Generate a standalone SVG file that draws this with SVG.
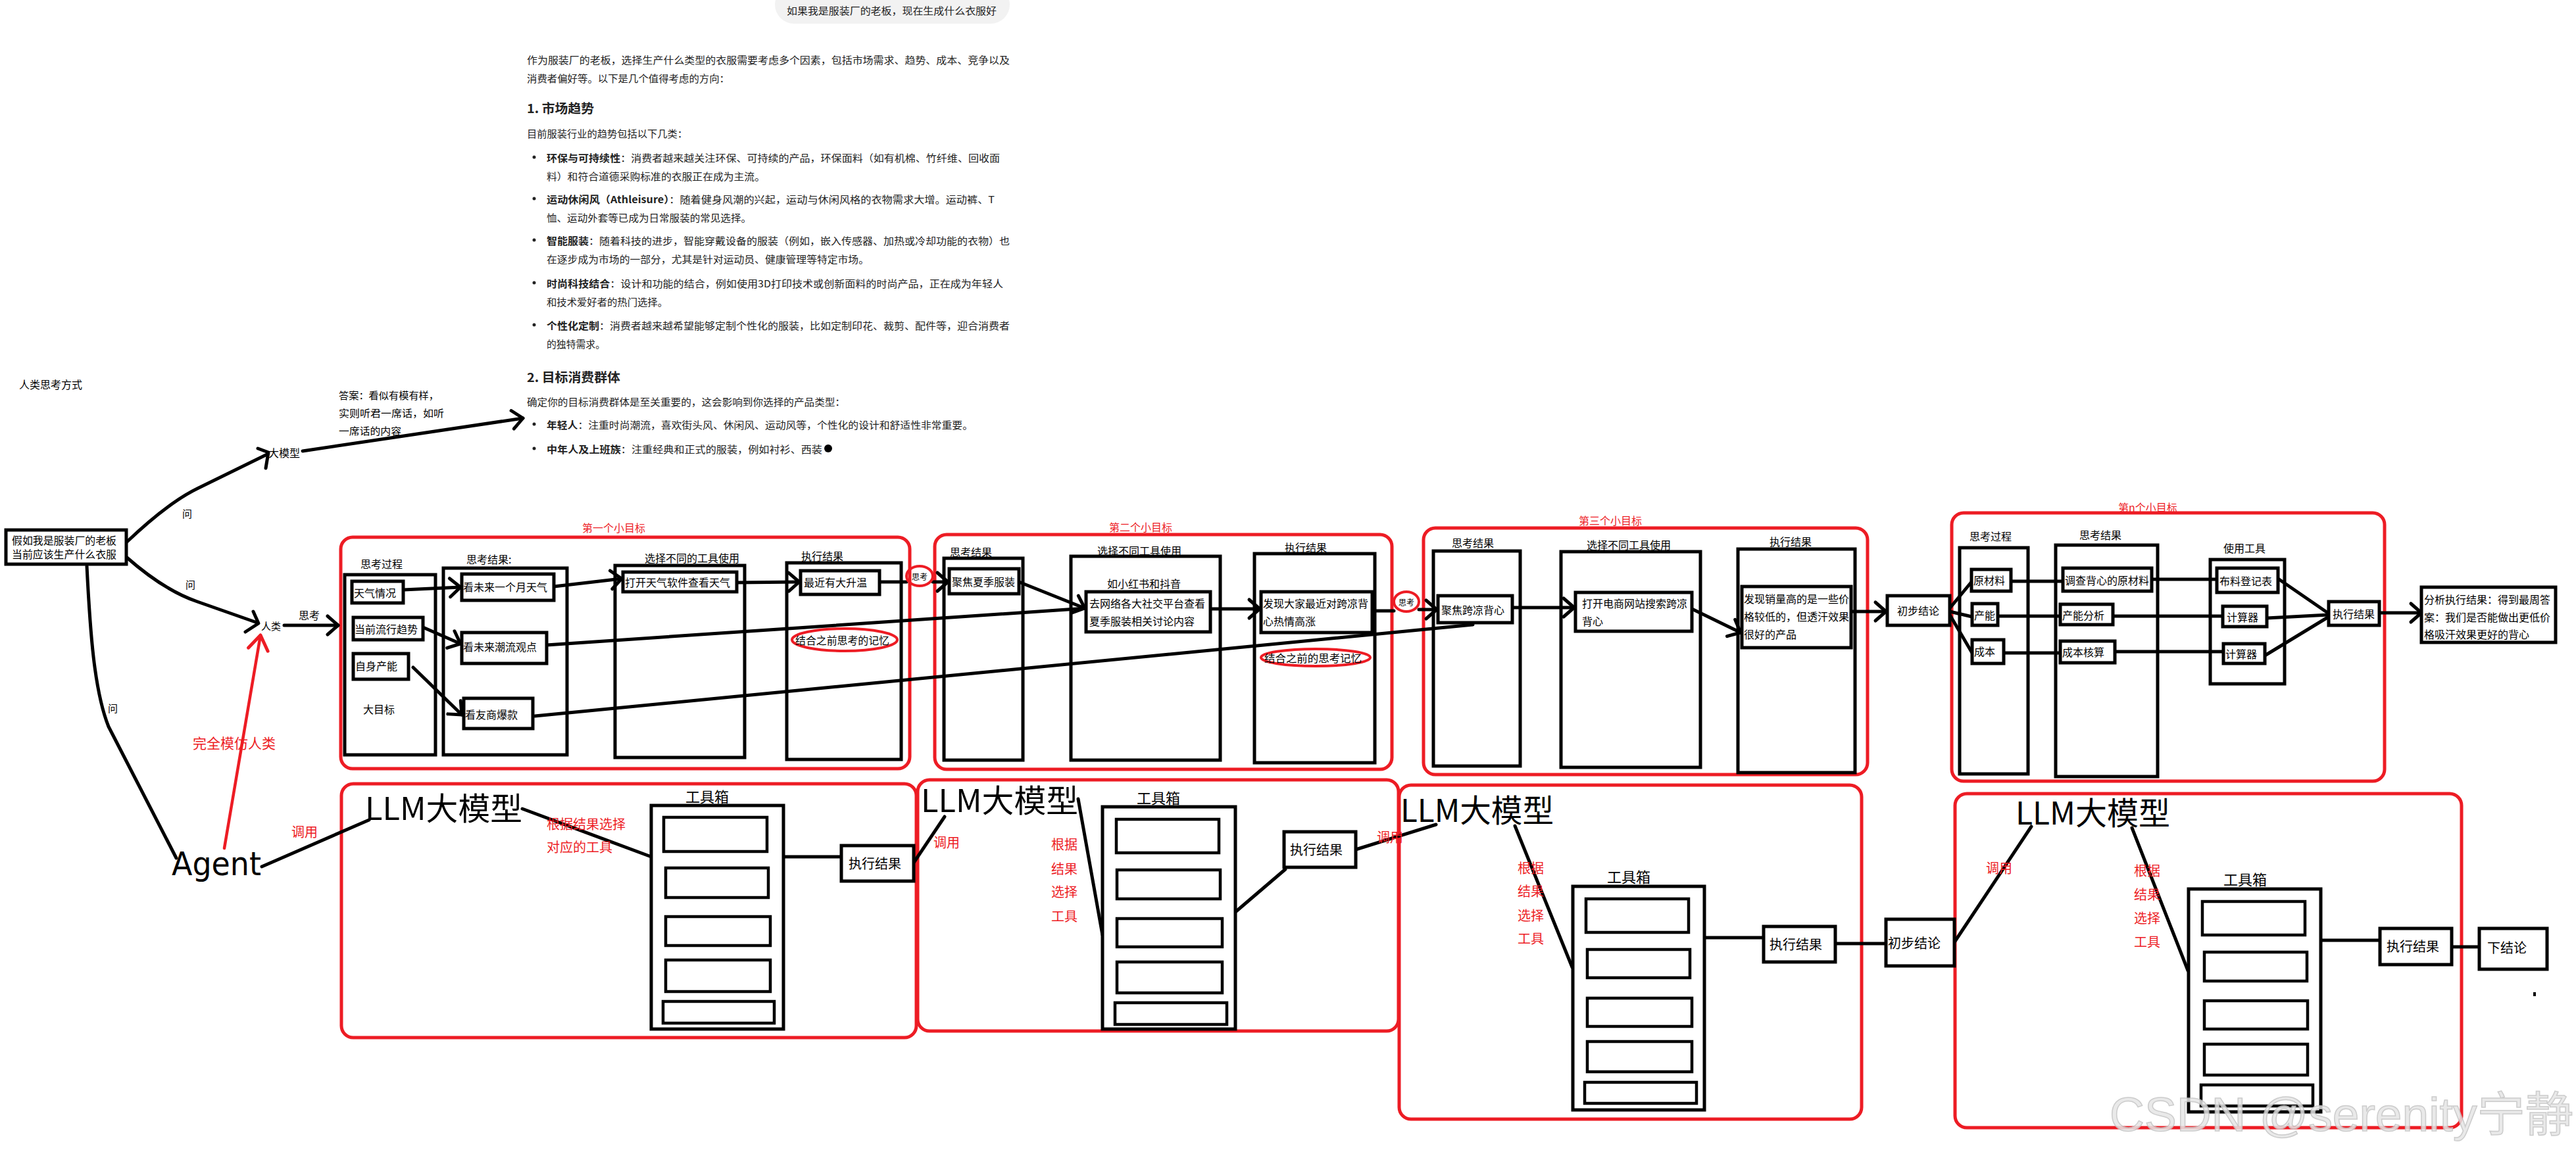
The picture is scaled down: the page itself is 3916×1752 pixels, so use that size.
<svg xmlns="http://www.w3.org/2000/svg" width="3916" height="1752" viewBox="0 0 3916 1752">
<defs>
<style>
.t{font-family:"Noto Sans CJK SC","Liberation Sans",sans-serif;dominant-baseline:central;fill:#000}
.p{font-family:"Noto Sans CJK SC","Liberation Sans",sans-serif;dominant-baseline:central;fill:#222;font-size:15px}
.b{font-weight:bold}
.r{fill:#ED1C24}
.s12{font-size:12px}.s15{font-size:15px}.s16{font-size:16px}.s20{font-size:20px}.s22{font-size:22px}
.llm{font-family:"Noto Sans CJK SC","Liberation Sans",sans-serif;font-size:48px;fill:#000}
.box{fill:#fff;stroke:#000;stroke-width:5}
.col{fill:none;stroke:#000;stroke-width:5}
.tb{fill:#fff;stroke:#000;stroke-width:5}
.slot{fill:#fff;stroke:#000;stroke-width:4.5}
.frame{fill:none;stroke:#ED1C24;stroke-width:5}
.ring{fill:none;stroke:#ED1C24;stroke-width:4}
.ln{fill:none;stroke:#000;stroke-width:5;stroke-linecap:round;stroke-linejoin:round}
.la{fill:none;stroke:#000;stroke-width:5;stroke-linecap:round;marker-end:url(#ah)}
.lr{fill:none;stroke:#ED1C24;stroke-width:4.5;stroke-linecap:round;marker-end:url(#ahr)}
</style>
<marker id="ah" markerUnits="userSpaceOnUse" markerWidth="26" markerHeight="34" viewBox="0 0 26 34" refX="21" refY="17" orient="auto" overflow="visible"><path d="M5,3 L21,17 L5,31" fill="none" stroke="#000" stroke-width="5" stroke-linecap="round" stroke-linejoin="round"/></marker>
<marker id="ahr" markerUnits="userSpaceOnUse" markerWidth="30" markerHeight="36" viewBox="0 0 30 36" refX="25" refY="18" orient="auto" overflow="visible"><path d="M3,3 L25,18 L3,33" fill="none" stroke="#ED1C24" stroke-width="5" stroke-linecap="round" stroke-linejoin="round"/></marker>
</defs>
<rect width="3916" height="1752" fill="#fff"/>

<!-- chat answer text -->
<g id="chat">
<rect x="1178" y="-22" width="357" height="58" rx="29" fill="#f2f2f2"/>
<text class="p" x="1196" y="15" textLength="319" lengthAdjust="spacingAndGlyphs">如果我是服装厂的老板，现在生成什么衣服好</text>
<text class="p" x="801" y="90" textLength="734" lengthAdjust="spacingAndGlyphs">作为服装厂的老板，选择生产什么类型的衣服需要考虑多个因素，包括市场需求、趋势、成本、竞争以及</text>
<text class="p" x="801" y="118" textLength="308" lengthAdjust="spacingAndGlyphs">消费者偏好等。以下是几个值得考虑的方向：</text>
<text class="p b" x="801" y="163" style="font-size:19px" textLength="102" lengthAdjust="spacingAndGlyphs">1. 市场趋势</text>
<text class="p" x="801" y="202" textLength="244" lengthAdjust="spacingAndGlyphs">目前服装行业的趋势包括以下几类：</text>
<g fill="#222"><circle cx="812" cy="239" r="2.5"/><circle cx="812" cy="302" r="2.5"/><circle cx="812" cy="365" r="2.5"/><circle cx="812" cy="430" r="2.5"/><circle cx="812" cy="494" r="2.5"/><circle cx="812" cy="645" r="2.5"/><circle cx="812" cy="682" r="2.5"/></g>
<text class="p" x="831" y="239" textLength="689" lengthAdjust="spacingAndGlyphs"><tspan class="b">环保与可持续性</tspan>：消费者越来越关注环保、可持续的产品，环保面料（如有机棉、竹纤维、回收面</text>
<text class="p" x="831" y="267" textLength="332" lengthAdjust="spacingAndGlyphs">料）和符合道德采购标准的衣服正在成为主流。</text>
<text class="p" x="831" y="302" textLength="681" lengthAdjust="spacingAndGlyphs"><tspan class="b">运动休闲风（Athleisure）</tspan>：随着健身风潮的兴起，运动与休闲风格的衣物需求大增。运动裤、T</text>
<text class="p" x="831" y="330" textLength="311" lengthAdjust="spacingAndGlyphs">恤、运动外套等已成为日常服装的常见选择。</text>
<text class="p" x="831" y="365" textLength="704" lengthAdjust="spacingAndGlyphs"><tspan class="b">智能服装</tspan>：随着科技的进步，智能穿戴设备的服装（例如，嵌入传感器、加热或冷却功能的衣物）也</text>
<text class="p" x="831" y="393" textLength="490" lengthAdjust="spacingAndGlyphs">在逐步成为市场的一部分，尤其是针对运动员、健康管理等特定市场。</text>
<text class="p" x="831" y="430" textLength="694" lengthAdjust="spacingAndGlyphs"><tspan class="b">时尚科技结合</tspan>：设计和功能的结合，例如使用3D打印技术或创新面料的时尚产品，正在成为年轻人</text>
<text class="p" x="831" y="458" textLength="184" lengthAdjust="spacingAndGlyphs">和技术爱好者的热门选择。</text>
<text class="p" x="831" y="494" textLength="704" lengthAdjust="spacingAndGlyphs"><tspan class="b">个性化定制</tspan>：消费者越来越希望能够定制个性化的服装，比如定制印花、裁剪、配件等，迎合消费者</text>
<text class="p" x="831" y="522" textLength="89" lengthAdjust="spacingAndGlyphs">的独特需求。</text>
<text class="p b" x="801" y="572" style="font-size:19px" textLength="142" lengthAdjust="spacingAndGlyphs">2. 目标消费群体</text>
<text class="p" x="801" y="610" textLength="484" lengthAdjust="spacingAndGlyphs">确定你的目标消费群体是至关重要的，这会影响到你选择的产品类型：</text>
<text class="p" x="831" y="645" textLength="648" lengthAdjust="spacingAndGlyphs"><tspan class="b">年轻人</tspan>：注重时尚潮流，喜欢街头风、休闲风、运动风等，个性化的设计和舒适性非常重要。</text>
<text class="p" x="831" y="682" textLength="419" lengthAdjust="spacingAndGlyphs"><tspan class="b">中年人及上班族</tspan>：注重经典和正式的服装，例如衬衫、西装</text>
<circle cx="1259" cy="682" r="6" fill="#000"/>
</g>

<!-- red frames -->
<g id="frames">
<rect class="frame" x="518" y="817" width="865" height="352" rx="18"/>
<rect class="frame" x="1421" y="813" width="695" height="357" rx="18"/>
<rect class="frame" x="2164" y="803" width="675" height="375" rx="18"/>
<rect class="frame" x="2967" y="780" width="658" height="408" rx="18"/>
<rect class="frame" x="519" y="1192" width="874" height="386" rx="18"/>
<rect class="frame" x="1395" y="1186" width="731" height="382" rx="18"/>
<rect class="frame" x="2127" y="1194" width="703" height="508" rx="18"/>
<rect class="frame" x="2972" y="1207" width="770" height="508" rx="18"/>
<text class="t s16 r" x="885" y="802">第一个小目标</text>
<text class="t s16 r" x="1686" y="801">第二个小目标</text>
<text class="t s16 r" x="2400" y="791">第三个小目标</text>
<text class="t s16 r" x="3220" y="771">第n个小目标</text>
</g>

<!-- columns -->
<g id="columns">
<rect class="col" x="524" y="874" width="138" height="274"/>
<rect class="col" x="674" y="864" width="188" height="284"/>
<rect class="col" x="935" y="860" width="197" height="292"/>
<rect class="col" x="1196" y="856" width="174" height="299"/>
<rect class="col" x="1435" y="849" width="120" height="307"/>
<rect class="col" x="1628" y="846" width="227" height="310"/>
<rect class="col" x="1907" y="842" width="183" height="318"/>
<rect class="col" x="2179" y="838" width="132" height="327"/>
<rect class="col" x="2373" y="839" width="212" height="328"/>
<rect class="col" x="2642" y="835" width="178" height="340"/>
<rect class="col" x="2979" y="833" width="104" height="344"/>
<rect class="col" x="3125" y="829" width="155" height="352"/>
<rect class="col" x="3360" y="851" width="113" height="189"/>
<text class="t s16" x="548" y="857">思考过程</text>
<text class="t s16" x="709" y="850">思考结果:</text>
<text class="t s16" x="980" y="848">选择不同的工具使用</text>
<text class="t s16" x="1218" y="845">执行结果</text>
<text class="t s16" x="552" y="1078">大目标</text>
<text class="t s16" x="1444" y="839">思考结果</text>
<text class="t s16" x="1668" y="837">选择不同工具使用</text>
<text class="t s16" x="1953" y="832">执行结果</text>
<text class="t s16" x="1683" y="887">如小红书和抖音</text>
<text class="t s16" x="2207" y="825">思考结果</text>
<text class="t s16" x="2412" y="828">选择不同工具使用</text>
<text class="t s16" x="2690" y="823">执行结果</text>
<text class="t s16" x="2994" y="815">思考过程</text>
<text class="t s16" x="3161" y="813">思考结果</text>
<text class="t s16" x="3380" y="833">使用工具</text>
</g>

<!-- connectors -->
<g id="connectors">
<path class="ln" d="M193,824 Q255,765 300,743 L406,691"/>
<path class="ln" d="M392,682 L408,688 L404,712"/>
<path class="ln" d="M193,848 Q250,898 300,915 L391,947"/>
<path class="ln" d="M385,930 L393,948 L373,961"/>
<path class="ln" d="M132,861 C137,960 143,1050 165,1105 L268,1305"/>
<path class="la" d="M432,951 L514,951"/>
<path class="lr" d="M341,1290 L396,966"/>
<path class="la" d="M460,686 L795,636"/>
<path class="la" d="M613,897 L700,893"/>
<path class="la" d="M643,954 L700,979"/>
<path class="la" d="M628,1015 L702,1087"/>
<path class="la" d="M842,892 L945,880"/>
<path class="la" d="M1120,886 L1215,885"/>
<path class="ln" d="M1337,885 L1378,885"/>
<path class="la" d="M1418,885 L1441,885"/>
<path class="ln" d="M831,981 L1651,925"/>
<path class="ln" d="M813,1089 L2239,950"/>
<path class="la" d="M1549,885 L1649,925"/>
<path class="la" d="M1840,926 L1915,926"/>
<path class="ln" d="M2086,929 L2119,929"/>
<path class="la" d="M2157,927 L2184,927"/>
<path class="la" d="M2299,924 L2393,924"/>
<path class="la" d="M2572,926 L2646,962"/>
<path class="la" d="M2814,930 L2867,930"/>
<path class="ln" d="M2964,925 L2997,885"/>
<path class="ln" d="M2964,930 L2998,938"/>
<path class="ln" d="M2964,935 L2998,993"/>
<path class="ln" d="M3057,884 L3136,884"/>
<path class="ln" d="M3037,937 L3132,937"/>
<path class="ln" d="M3046,993 L3132,993"/>
<path class="ln" d="M3271,881 L3370,881"/>
<path class="ln" d="M3212,937 L3379,937"/>
<path class="ln" d="M3215,991 L3380,991"/>
<path class="ln" d="M3463,880 L3540,933"/>
<path class="ln" d="M3446,940 L3540,935"/>
<path class="ln" d="M3443,997 L3540,938"/>
<path class="la" d="M3617,932 L3681,932"/>
<path class="ln" d="M398,1318 L561,1247"/>
<path class="ln" d="M794,1230 L990,1303"/>
<path class="ln" d="M1191,1303 L1279,1303"/>
<path class="ln" d="M1389,1312 L1436,1242"/>
<path class="ln" d="M1639,1215 L1676,1422"/>
<path class="ln" d="M1878,1387 L1954,1322"/>
<path class="ln" d="M2061,1292 L2183,1254"/>
<path class="ln" d="M2303,1256 L2390,1471"/>
<path class="ln" d="M2591,1426 L2681,1426"/>
<path class="ln" d="M2790,1435 L2867,1435"/>
<path class="ln" d="M2971,1433 L3088,1257"/>
<path class="ln" d="M3241,1259 L3326,1476"/>
<path class="ln" d="M3528,1430 L3618,1430"/>
<path class="ln" d="M3727,1440 L3769,1440"/>
</g>

<!-- left nodes -->
<g id="n-title"><text class="t s16" x="29" y="584">人类思考方式</text></g>
<g id="n-question">
<rect x="9" y="806" width="183" height="52" fill="#fff" stroke="#000" stroke-width="5"/>
<text class="t s16" x="18" y="821" textLength="159" lengthAdjust="spacingAndGlyphs">假如我是服装厂的老板</text>
<text class="t s16" x="18" y="842" textLength="159" lengthAdjust="spacingAndGlyphs">当前应该生产什么衣服</text>
</g>
<g id="n-labels">
<text class="t s15" x="277" y="780">问</text>
<text class="t s15" x="282" y="888">问</text>
<text class="t s15" x="164" y="1076">问</text>
<text class="t s16" x="454" y="935">思考</text>
<text class="t r" style="font-size:21px" x="293" y="1129">完全模仿人类</text>
<text class="t s20 r" x="443" y="1264">调用</text>
</g>
<g id="n-llm-top"><text class="t s16" x="408" y="688">大模型</text></g>
<g id="n-answer">
<text class="t s15" x="515" y="600" textLength="152" lengthAdjust="spacingAndGlyphs">答案：看似有模有样，</text>
<text class="t s15" x="515" y="627" textLength="160" lengthAdjust="spacingAndGlyphs">实则听君一席话，如听</text>
<text class="t s15" x="515" y="654" textLength="95" lengthAdjust="spacingAndGlyphs">一席话的内容</text>
</g>
<g id="n-human"><text class="t s15" x="397" y="951">人类</text></g>
<g id="n-agent"><text x="261" y="1331" style="font-family:'DejaVu Sans','Liberation Sans',sans-serif;font-size:50px" textLength="136" lengthAdjust="spacingAndGlyphs">Agent</text></g>

<!-- goal 1 nodes -->
<g id="g1-weather"><rect class="box" x="535" y="884" width="78" height="33"/><text class="t s16" x="538" y="901">天气情况</text></g>
<g id="g1-trend"><rect class="box" x="537" y="939" width="106" height="34"/><text class="t s16" x="539" y="956">当前流行趋势</text></g>
<g id="g1-capacity"><rect class="box" x="537" y="994" width="84" height="39"/><text class="t s16" x="540" y="1012">自身产能</text></g>
<g id="g1-month"><rect class="box" x="702" y="873" width="140" height="40"/><text class="t s16" x="704" y="892">看未来一个月天气</text></g>
<g id="g1-fashion"><rect class="box" x="702" y="962" width="129" height="47"/><text class="t s16" x="704" y="983">看未来潮流观点</text></g>
<g id="g1-rival"><rect class="box" x="705" y="1062" width="105" height="46"/><text class="t s16" x="707" y="1086">看友商爆款</text></g>
<g id="g1-app"><rect class="box" x="947" y="870" width="173" height="30"/><text class="t s16" x="950" y="885">打开天气软件查看天气</text></g>
<g id="g1-hot"><rect class="box" x="1217" y="868" width="120" height="36"/><text class="t s16" x="1222" y="885">最近有大升温</text></g>
<g id="g1-memory"><ellipse class="ring" cx="1284" cy="973" rx="80" ry="17"/><text class="t s16" x="1209" y="973" textLength="143" lengthAdjust="spacingAndGlyphs">结合之前思考的记忆</text></g>
<g id="think-1"><ellipse class="ring" cx="1398" cy="876" rx="20" ry="15"/><text class="t s12" x="1386" y="876">思考</text></g>

<!-- goal 2 nodes -->
<g id="g2-focus"><rect class="box" x="1443" y="865" width="106" height="38"/><text class="t s16" x="1447" y="884">聚焦夏季服装</text></g>
<g id="g2-social"><rect class="box" x="1651" y="900" width="189" height="61"/><text class="t s16" x="1656" y="917">去网络各大社交平台查看</text><text class="t s16" x="1656" y="944">夏季服装相关讨论内容</text></g>
<g id="g2-found"><rect class="box" x="1917" y="900" width="169" height="62"/><text class="t s16" x="1920" y="917">发现大家最近对跨凉背</text><text class="t s16" x="1920" y="944">心热情高涨</text></g>
<g id="g2-memory"><ellipse class="ring" cx="2000" cy="1000" rx="83" ry="13"/><text class="t s16" x="1922" y="1000" textLength="148" lengthAdjust="spacingAndGlyphs">结合之前的思考记忆</text></g>
<g id="think-2"><ellipse class="ring" cx="2138" cy="915" rx="19" ry="15"/><text class="t s12" x="2126" y="915">思考</text></g>

<!-- goal 3 nodes -->
<g id="g3-focus"><rect class="box" x="2186" y="906" width="113" height="41"/><text class="t s16" x="2191" y="927">聚焦跨凉背心</text></g>
<g id="g3-shop"><rect class="box" x="2395" y="901" width="177" height="59"/><text class="t s16" x="2405" y="917">打开电商网站搜索跨凉</text><text class="t s16" x="2405" y="944">背心</text></g>
<g id="g3-found"><rect class="box" x="2648" y="892" width="166" height="93"/><text class="t s16" x="2651" y="910">发现销量高的是一些价</text><text class="t s16" x="2651" y="937">格较低的，但透汗效果</text><text class="t s16" x="2651" y="964">很好的产品</text></g>
<g id="prelim-top"><rect class="box" x="2869" y="906" width="95" height="45"/><text class="t s16" x="2884" y="928">初步结论</text></g>

<!-- goal n nodes -->
<g id="gn-material"><rect class="box" x="2997" y="866" width="60" height="33"/><text class="t s16" x="3000" y="882">原材料</text></g>
<g id="gn-capacity"><rect class="box" x="2998" y="918" width="39" height="33"/><text class="t s16" x="3001" y="935">产能</text></g>
<g id="gn-cost"><rect class="box" x="2998" y="973" width="48" height="36"/><text class="t s16" x="3001" y="990">成本</text></g>
<g id="gn-survey"><rect class="box" x="3136" y="864" width="135" height="35"/><text class="t s16" x="3139" y="882">调查背心的原材料</text></g>
<g id="gn-capa"><rect class="box" x="3132" y="919" width="80" height="31"/><text class="t s16" x="3135" y="935">产能分析</text></g>
<g id="gn-costcalc"><rect class="box" x="3132" y="975" width="83" height="33"/><text class="t s16" x="3135" y="991">成本核算</text></g>
<g id="gn-fabric"><rect class="box" x="3370" y="864" width="93" height="37"/><text class="t s16" x="3374" y="883">布料登记表</text></g>
<g id="gn-calc1"><rect class="box" x="3379" y="922" width="67" height="31"/><text class="t s16" x="3385" y="938">计算器</text></g>
<g id="gn-calc2"><rect class="box" x="3380" y="979" width="63" height="30"/><text class="t s16" x="3383" y="994">计算器</text></g>
<g id="gn-result"><rect class="box" x="3540" y="915" width="77" height="36"/><text class="t s16" x="3546" y="933">执行结果</text></g>
<g id="gn-final"><rect class="box" x="3681" y="893" width="204" height="84"/><text class="t s16" x="3685" y="911" textLength="192" lengthAdjust="spacingAndGlyphs">分析执行结果：得到最周答</text><text class="t s16" x="3685" y="938" textLength="192" lengthAdjust="spacingAndGlyphs">案：我们是否能做出更低价</text><text class="t s16" x="3685" y="964">格吸汗效果更好的背心</text></g>

<!-- agent row 1 -->
<g id="a1-llm"><text class="llm" x="555" y="1247" textLength="239" lengthAdjust="spacingAndGlyphs">LLM大模型</text></g>
<g id="a1-note"><text class="t s20 r" x="831" y="1252">根据结果选择</text><text class="t s20 r" x="831" y="1287">对应的工具</text></g>
<g id="a1-toolbox">
<text class="t s22" x="1042" y="1210">工具箱</text>
<rect class="tb" x="990" y="1225" width="201" height="340"/>
<rect class="slot" x="1009" y="1243" width="157" height="52"/>
<rect class="slot" x="1012" y="1320" width="156" height="45"/>
<rect class="slot" x="1012" y="1394" width="159" height="44"/>
<rect class="slot" x="1012" y="1460" width="159" height="48"/>
<rect class="slot" x="1008" y="1523" width="169" height="33"/>
</g>
<g id="a1-result"><rect class="box" x="1279" y="1286" width="110" height="54"/><text class="t s20" x="1290" y="1312">执行结果</text></g>

<!-- agent row 2 -->
<g id="a2-llm"><text class="llm" x="1400" y="1235" textLength="239" lengthAdjust="spacingAndGlyphs">LLM大模型</text></g>
<g id="a2-call"><text class="t s20 r" x="1419" y="1280">调用</text></g>
<g id="a2-note"><text class="t s20 r" x="1598" y="1283">根据</text><text class="t s20 r" x="1598" y="1320">结果</text><text class="t s20 r" x="1598" y="1355">选择</text><text class="t s20 r" x="1598" y="1392">工具</text></g>
<g id="a2-toolbox">
<text class="t s22" x="1728" y="1212">工具箱</text>
<rect class="tb" x="1676" y="1227" width="202" height="338"/>
<rect class="slot" x="1697" y="1246" width="156" height="51"/>
<rect class="slot" x="1698" y="1323" width="157" height="44"/>
<rect class="slot" x="1698" y="1397" width="160" height="43"/>
<rect class="slot" x="1698" y="1463" width="160" height="47"/>
<rect class="slot" x="1695" y="1525" width="170" height="33"/>
</g>
<g id="a2-result"><rect class="box" x="1952" y="1265" width="109" height="54"/><text class="t s20" x="1961" y="1291">执行结果</text></g>
<g id="a3-call"><text class="t s20 r" x="2093" y="1272">调用</text></g>

<!-- agent row 3 -->
<g id="a3-llm"><text class="llm" x="2129" y="1250" textLength="233" lengthAdjust="spacingAndGlyphs">LLM大模型</text></g>
<g id="a3-note"><text class="t s20 r" x="2307" y="1319">根据</text><text class="t s20 r" x="2307" y="1354">结果</text><text class="t s20 r" x="2307" y="1391">选择</text><text class="t s20 r" x="2307" y="1426">工具</text></g>
<g id="a3-toolbox">
<text class="t s22" x="2443" y="1332">工具箱</text>
<rect class="tb" x="2391" y="1348" width="200" height="340"/>
<rect class="slot" x="2411" y="1367" width="156" height="51"/>
<rect class="slot" x="2413" y="1444" width="156" height="43"/>
<rect class="slot" x="2413" y="1518" width="159" height="43"/>
<rect class="slot" x="2413" y="1584" width="159" height="46"/>
<rect class="slot" x="2409" y="1646" width="170" height="32"/>
</g>
<g id="a3-result"><rect class="box" x="2681" y="1409" width="109" height="54"/><text class="t s20" x="2690" y="1435">执行结果</text></g>
<g id="prelim-bottom"><rect class="box" x="2867" y="1398" width="104" height="71"/><text class="t s20" x="2870" y="1433">初步结论</text></g>

<!-- agent row 4 -->
<g id="a4-llm"><text class="llm" x="3064" y="1254" textLength="235" lengthAdjust="spacingAndGlyphs">LLM大模型</text></g>
<g id="a4-call"><text class="t s20 r" x="3019" y="1319">调用</text></g>
<g id="a4-note"><text class="t s20 r" x="3244" y="1323">根据</text><text class="t s20 r" x="3244" y="1359">结果</text><text class="t s20 r" x="3244" y="1395">选择</text><text class="t s20 r" x="3244" y="1431">工具</text></g>
<g id="a4-toolbox">
<text class="t s22" x="3380" y="1336">工具箱</text>
<rect class="tb" x="3327" y="1352" width="201" height="339"/>
<rect class="slot" x="3348" y="1371" width="156" height="51"/>
<rect class="slot" x="3351" y="1448" width="156" height="44"/>
<rect class="slot" x="3351" y="1522" width="157" height="43"/>
<rect class="slot" x="3351" y="1588" width="157" height="47"/>
<rect class="slot" x="3346" y="1650" width="170" height="32"/>
</g>
<g id="a4-result"><rect class="box" x="3618" y="1412" width="109" height="55"/><text class="t s20" x="3628" y="1438">执行结果</text></g>
<g id="a4-conclusion"><rect class="box" x="3769" y="1412" width="103" height="62"/><text class="t s20" x="3781" y="1440">下结论</text></g>
<rect x="3851" y="1509" width="4" height="6" fill="#000"/>

<text x="3207" y="1720" style="font-family:'Liberation Sans','Noto Sans CJK SC',sans-serif;font-size:72px;fill:#e6e6e6;stroke:#c4c4c4;stroke-width:1.5;opacity:0.85" textLength="705" lengthAdjust="spacingAndGlyphs">CSDN @serenity宁静</text>
</svg>
